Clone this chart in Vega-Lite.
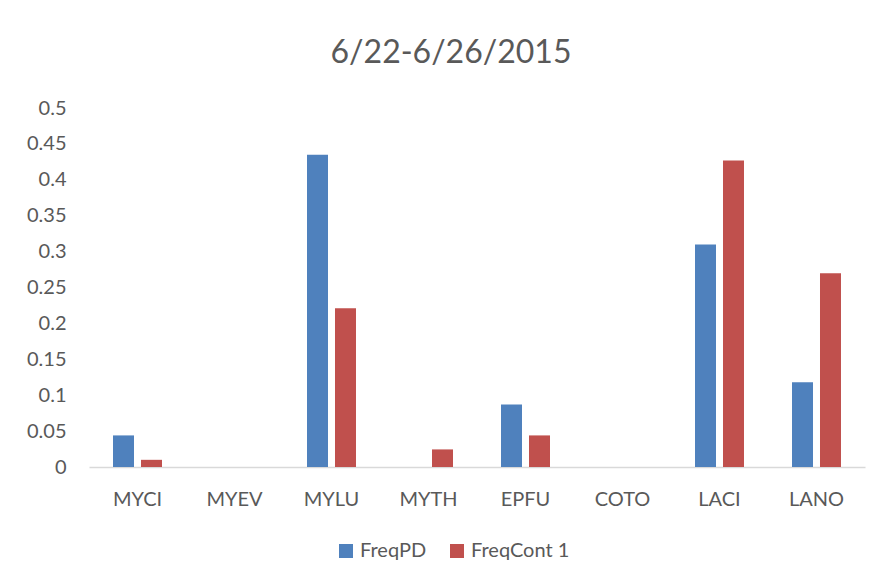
{
  "$schema": "https://vega.github.io/schema/vega-lite/v6.json",
  "width": 776,
  "height": 359,
  "autosize": {"type": "none"},
  "padding": {"left": 89, "top": 108, "right": 20, "bottom": 117},
  "background": "white",
  "title": {"text": "6/22-6/26/2015", "fontSize": 32, "font": "Lato", "fontWeight": "normal", "color": "#595959", "offset": 28, "dx": -26},
  "data": {"values": [
    {"species": "MYCI", "series": "FreqPD", "freq": 0.044},
    {"species": "MYCI", "series": "FreqCont 1", "freq": 0.01},
    {"species": "MYEV", "series": "FreqPD", "freq": 0},
    {"species": "MYEV", "series": "FreqCont 1", "freq": 0},
    {"species": "MYLU", "series": "FreqPD", "freq": 0.435},
    {"species": "MYLU", "series": "FreqCont 1", "freq": 0.221},
    {"species": "MYTH", "series": "FreqPD", "freq": 0},
    {"species": "MYTH", "series": "FreqCont 1", "freq": 0.0245},
    {"species": "EPFU", "series": "FreqPD", "freq": 0.087},
    {"species": "EPFU", "series": "FreqCont 1", "freq": 0.044},
    {"species": "COTO", "series": "FreqPD", "freq": 0},
    {"species": "COTO", "series": "FreqCont 1", "freq": 0},
    {"species": "LACI", "series": "FreqPD", "freq": 0.31},
    {"species": "LACI", "series": "FreqCont 1", "freq": 0.427},
    {"species": "LANO", "series": "FreqPD", "freq": 0.118},
    {"species": "LANO", "series": "FreqCont 1", "freq": 0.27}
  ]},
  "mark": {"type": "bar"},
  "encoding": {
    "x": {"field": "species", "type": "nominal", "sort": null,
      "scale": {"paddingInner": 0.495, "paddingOuter": 0.2475},
      "axis": {"title": null, "labelAngle": 0, "ticks": false, "domainColor": "#d9d9d9", "domainWidth": 1.5,
        "labelPadding": 22, "labelFontSize": 20, "labelFont": "Lato", "labelColor": "#595959"}},
    "xOffset": {"field": "series", "type": "nominal", "sort": ["FreqPD", "FreqCont 1"], "scale": {"paddingInner": 0.25}},
    "y": {"field": "freq", "type": "quantitative",
      "scale": {"domain": [0, 0.5], "nice": false},
      "axis": {"title": null, "values": [0, 0.05, 0.1, 0.15, 0.2, 0.25, 0.3, 0.35, 0.4, 0.45, 0.5], "format": ".2~f", "grid": false, "domain": false, "ticks": false,
        "labelPadding": 23, "labelFontSize": 20, "labelFont": "Lato", "labelColor": "#595959"}},
    "color": {"field": "series", "type": "nominal", "sort": ["FreqPD", "FreqCont 1"],
      "scale": {"domain": ["FreqPD", "FreqCont 1"], "range": ["#4F81BD", "#C0504D"]},
      "legend": {"title": null, "orient": "none", "legendX": 247, "legendY": 433, "direction": "horizontal",
        "symbolType": "square", "symbolSize": 196, "symbolStrokeWidth": 0, "labelFontSize": 20, "labelFont": "Lato", "labelColor": "#595959", "columnPadding": 20, "padding": 0}}
  },
  "config": {"view": {"stroke": null}}
}
